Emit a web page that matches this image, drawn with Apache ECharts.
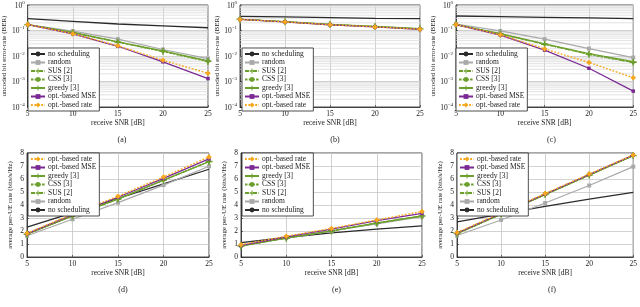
<!DOCTYPE html>
<html><head><meta charset="utf-8">
<script src="https://cdn.jsdelivr.net/npm/echarts@6/dist/echarts.min.js"></script>
<style>html,body{margin:0;padding:0;background:#fff}#c{width:640px;height:307px}</style>
</head><body><div id="c"></div>
<script>
const snr = [5, 10, 15, 20, 25];
const names = ['no scheduling','random','SUS [2]','CSS [3]','greedy [3]','opt.-based MSE','opt.-based rate'];
const berTicks = [1e-4, 1e-3, 1e-2, 1e-1, 1];
const rateTicks = [0,1,2,3,4,5,6,7,8];

// (a) BER
const berA_none   = [0.29, 0.23, 0.18, 0.153, 0.128];
const berA_random = [0.17, 0.095, 0.046, 0.018, 0.0079];
const berA_sus    = [0.17, 0.082, 0.035, 0.0155, 0.0062];
const berA_css    = [0.17, 0.083, 0.035, 0.0150, 0.0060];
const berA_greedy = [0.17, 0.084, 0.036, 0.0158, 0.0065];
const berA_mse    = [0.17, 0.074, 0.024, 0.0059, 0.0013];
const berA_rate   = [0.17, 0.075, 0.025, 0.0068, 0.0021];
// (b) BER
const berB_none   = [0.36, 0.34, 0.32, 0.30, 0.29];
const berB_random = [0.275, 0.22, 0.17, 0.14, 0.114];
const berB_sus    = [0.275, 0.22, 0.172, 0.142, 0.116];
const berB_css    = [0.275, 0.22, 0.172, 0.142, 0.116];
const berB_greedy = [0.276, 0.222, 0.175, 0.145, 0.118];
const berB_mse    = [0.272, 0.215, 0.167, 0.137, 0.110];
const berB_rate   = [0.273, 0.217, 0.168, 0.138, 0.112];
// (c) BER
const berC_none   = [0.37, 0.35, 0.33, 0.31, 0.29];
const berC_random = [0.18, 0.096, 0.046, 0.0196, 0.0087];
const berC_sus    = [0.17, 0.073, 0.029, 0.0118, 0.0057];
const berC_css    = [0.17, 0.073, 0.029, 0.0115, 0.0055];
const berC_greedy = [0.17, 0.075, 0.030, 0.0125, 0.0060];
const berC_mse    = [0.17, 0.066, 0.017, 0.0033, 0.00042];
const berC_rate   = [0.17, 0.068, 0.019, 0.0056, 0.0014];
// (d) rate
const rD_none   = [2.29, 3.4, 4.5, 5.62, 6.75];
const rD_random = [1.63, 2.9, 4.18, 5.53, 6.98];
const rD_sus    = [1.76, 3.16, 4.46, 5.91, 7.35];
const rD_css    = [1.76, 3.16, 4.46, 5.91, 7.35];
const rD_greedy = [1.75, 3.15, 4.45, 5.90, 7.33];
const rD_mse    = [1.80, 3.25, 4.60, 6.05, 7.55];
const rD_rate   = [1.82, 3.30, 4.68, 6.15, 7.70];
// (e) rate
const rE_none   = [1.1, 1.5, 1.85, 2.15, 2.4];
const rE_random = [0.85, 1.45, 2.0, 2.55, 3.1];
const rE_sus    = [0.85, 1.45, 2.0, 2.6, 3.15];
const rE_css    = [0.85, 1.45, 2.0, 2.6, 3.15];
const rE_greedy = [0.86, 1.46, 2.02, 2.62, 3.17];
const rE_mse    = [0.90, 1.55, 2.15, 2.80, 3.35];
const rE_rate   = [0.95, 1.60, 2.20, 2.85, 3.50];
// (f) rate
const rF_none   = [2.7, 3.3, 3.9, 4.45, 4.97];
const rF_random = [1.65, 2.85, 4.15, 5.5, 6.95];
const rF_sus    = [1.8, 3.3, 4.8, 6.3, 7.8];
const rF_css    = [1.8, 3.3, 4.8, 6.3, 7.8];
const rF_greedy = [1.8, 3.3, 4.8, 6.3, 7.8];
const rF_mse    = [1.85, 3.35, 4.85, 6.35, 7.85];
const rF_rate   = [1.88, 3.38, 4.88, 6.38, 7.85];

const panels = [
  {cap:'(a)', log:true,  d:[berA_none,berA_random,berA_sus,berA_css,berA_greedy,berA_mse,berA_rate]},
  {cap:'(b)', log:true,  d:[berB_none,berB_random,berB_sus,berB_css,berB_greedy,berB_mse,berB_rate]},
  {cap:'(c)', log:true,  d:[berC_none,berC_random,berC_sus,berC_css,berC_greedy,berC_mse,berC_rate]},
  {cap:'(d)', log:false, d:[rD_none,rD_random,rD_sus,rD_css,rD_greedy,rD_mse,rD_rate]},
  {cap:'(e)', log:false, d:[rE_none,rE_random,rE_sus,rE_css,rE_greedy,rE_mse,rE_rate]},
  {cap:'(f)', log:false, d:[rF_none,rF_random,rF_sus,rF_css,rF_greedy,rF_mse,rF_rate]}
];

// layout
const boxes = [
  {l:26, t:3, w:182, h:104, lg:[28,48]},
  {l:240, t:3, w:180, h:104, lg:[242,48]},
  {l:456, t:3, w:181, h:104, lg:[456,48]},
  {l:27, t:153, w:182, h:104, lg:[28,153]},
  {l:241, t:153, w:181, h:104, lg:[242,153]},
  {l:457, t:153, w:180, h:104, lg:[457,153]}
];
const FONT = '"Liberation Serif", "DejaVu Serif", serif';
const GREEN = '#6c9f2c';
const plusPath = 'path://M4,0h2v4h4v2h-4v4h-2v-4h-4v-2h4z';
const styles = [
  {color:'#2b2b2b', type:'solid', w:1.3, sym:'none', ss:0},
  {color:'#a9a9a9', type:'solid', w:1.2, sym:'rect', ss:4},
  {color:GREEN, type:[4,1.5,1,1.5], w:1.2, sym:plusPath, ss:7},
  {color:GREEN, type:[2.5,1.2], w:1.2, sym:'circle', ss:3.5},
  {color:GREEN, type:'solid', w:1.2, sym:plusPath, ss:5},
  {color:'#7b2a93', type:'solid', w:1.2, sym:'rect', ss:3.5},
  {color:'#f7a71d', type:[1.8,1.6], w:1.4, sym:'diamond', ss:5.5}
];
// minor grid lines of the log axis (2..9 x 10^e)
const minorVals = [];
for (let e = -4; e < 0; e++) for (let k = 2; k <= 9; k++) minorVals.push(k * Math.pow(10, e));
const minorData = [];
minorVals.forEach(v => { minorData.push([snr[0], v], [snr[snr.length-1], v], [snr[snr.length-1], '-']); });

const supMap = {'0':'0','-1':'−1','-2':'−2','-3':'−3','-4':'−4'};
const grid = [], xAxis = [], yAxis = [], series = [], legend = [], title = [];
panels.forEach((p, i) => {
  const b = boxes[i];
  grid.push({left:b.l, top:b.t, width:b.w, height:b.h, show:true, borderColor:'#222', borderWidth:0.8, backgroundColor:'#fff'});
  xAxis.push({type:'value', gridIndex:i, min:5, max:25, interval:5,
    name:'receive SNR [dB]', nameLocation:'middle', nameGap:11,
    nameTextStyle:{fontFamily:FONT, fontSize:7.5, color:'#222'},
    axisLine:{show:true, lineStyle:{color:'#222', width:0.8}},
    axisTick:{show:true, inside:true, length:2, lineStyle:{color:'#222', width:0.6}},
    axisLabel:{fontFamily:FONT, fontSize:7.5, color:'#222', margin:3},
    splitLine:{show:true, lineStyle:{color:'#c4c4c4', width:0.8}}});
  if (p.log) {
    yAxis.push({type:'log', gridIndex:i, logBase:10, min:berTicks[0], max:berTicks[berTicks.length-1], splitNumber:4,
      name:'uncoded bit error-rate (BER)', nameLocation:'middle', nameGap:17,
      nameTextStyle:{fontFamily:FONT, fontSize:7, color:'#222'},
      axisLine:{show:true, lineStyle:{color:'#222', width:0.8}},
      axisTick:{show:true, inside:true, length:2, lineStyle:{color:'#222', width:0.6}},
      axisLabel:{margin:3, formatter: v => {
        const e = Math.round(Math.log10(v));
        return '{b|10}{s|' + (supMap[String(e)] || e) + '}';
      }, rich:{b:{fontFamily:FONT, fontSize:7.5, color:'#222', verticalAlign:'bottom'},
               s:{fontFamily:FONT, fontSize:5, color:'#222', verticalAlign:'top', padding:[0,0,5,0]}}},
      splitLine:{show:true, lineStyle:{color:'#c4c4c4', width:0.8}}});
    series.push({type:'line', name:'minor', xAxisIndex:i, yAxisIndex:i, silent:true, z:1,
      data: minorData, connectNulls:false,
      symbol:'none', showSymbol:false,
      lineStyle:{color:'#dadada', width:0.8, type:'solid'}, animation:false});
  } else {
    yAxis.push({type:'value', gridIndex:i, min:rateTicks[0], max:rateTicks[rateTicks.length-1], interval:1,
      name:'average per-UE rate (bits/s/Hz)', nameLocation:'middle', nameGap:13,
      nameTextStyle:{fontFamily:FONT, fontSize:7, color:'#222'},
      axisLine:{show:true, lineStyle:{color:'#222', width:0.8}},
      axisTick:{show:true, inside:true, length:2, lineStyle:{color:'#222', width:0.6}},
      axisLabel:{fontFamily:FONT, fontSize:7.5, color:'#222', margin:3},
      splitLine:{show:true, lineStyle:{color:'#c8c8c8', width:0.8}}});
  }
  p.d.forEach((arr, k) => {
    const s = styles[k];
    series.push({type:'line', name:names[k], xAxisIndex:i, yAxisIndex:i, z:3 + k,
      data: snr.map((x, j) => [x, arr[j]]),
      symbol:s.sym, symbolSize:s.ss, showSymbol: s.sym !== 'none',
      itemStyle:{color:s.color}, lineStyle:{color:s.color, width:s.w, type:s.type},
      animation:false});
  });
  const order = p.log ? names.slice() : names.slice().reverse();
  legend.push({data:order, orient:'vertical', left:b.lg[0], top:b.lg[1], z:30,
    backgroundColor:'#fff', borderColor:'#222', borderWidth:0.8, borderRadius:0,
    padding:[2,3,2,2], itemGap:0.5, itemWidth:14, itemHeight:6, selectedMode:false,
    textStyle:{fontFamily:FONT, fontSize:7.5, color:'#222', lineHeight:8, padding:[0,0,0,-2]}});
  title.push({text:p.cap, left:b.l + b.w/2, top: b.t + 128, textAlign:'center',
    textStyle:{fontFamily:FONT, fontSize:8, fontWeight:'normal', color:'#222'}});
});

const chart = echarts.init(document.getElementById('c'), null, {renderer:'canvas'});
chart.setOption({animation:false, grid, xAxis, yAxis, series, legend, title});
</script></body></html>
